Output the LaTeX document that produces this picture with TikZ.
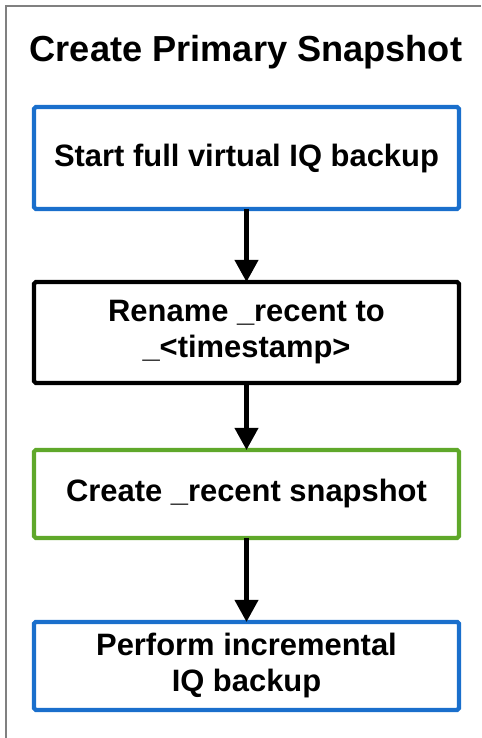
\documentclass[tikz,border=0pt]{standalone}
\usepackage{fontspec}
\setmainfont{Liberation Sans}
\usepackage{xcolor}
\usetikzlibrary{positioning, arrows.meta}

\definecolor{snapblue}{HTML}{1A6FCC}
\definecolor{snapgreen}{HTML}{5FA82A}
\definecolor{framegray}{HTML}{808080}

\begin{document}
\begin{tikzpicture}[
      x=0.02cm, y=-0.02cm,
      node distance=1.46cm,
      box/.style={draw, line width=2.4pt, rounded corners=1pt, minimum width=8.5cm, minimum
        height=2.04cm, outer sep=0pt, align=center,
        font=\fontsize{17.6}{20.4}\selectfont\bfseries},
      arr/.style={-{Triangle[width=0.46cm, length=0.44cm]}, line width=2.3pt}
    ]
    \useasboundingbox (0,0) rectangle (481,738);
    \draw[framegray, line width=0.9pt] (6,738) -- (6,6) -- (481,6);
    \node[font=\fontsize{20.6}{24}\selectfont\bfseries] (title) at (246,52) {Create Primary Snapshot};
    \node[box, draw=snapblue] (full) at (246.5,158) {Start full virtual IQ backup};
    \node[box, minimum height=2.02cm, below=of full] (rename) {Rename \_recent to\\\_<timestamp>};
    \node[box, draw=snapgreen, minimum height=1.76cm, below=1.34cm of rename] (recent) {Create \_recent snapshot};
    \node[box, draw=snapblue, minimum height=1.76cm, below=1.68cm of recent] (incr) {Perform incremental\\IQ backup};
    \draw[arr] (full)   -- (rename);
    \draw[arr] (rename) -- (recent);
    \draw[arr] (recent) -- (incr);
  \end{tikzpicture}
\end{document}
